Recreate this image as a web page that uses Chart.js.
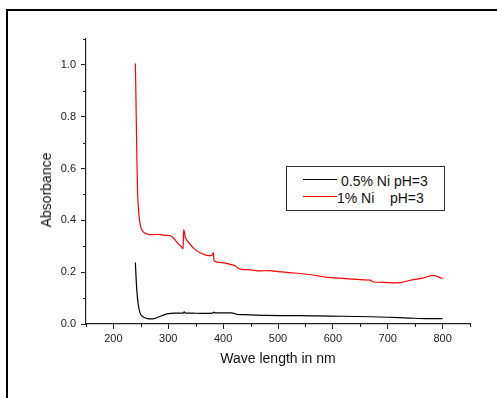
<!DOCTYPE html>
<html>
<head>
<meta charset="utf-8">
<script src="https://cdn.jsdelivr.net/npm/chart.js@4.4.0/dist/chart.umd.min.js"></script>
<style>
    body { margin: 0; background: #fff; }
    #wrap { position: relative; width: 497px; height: 398px; overflow: hidden; font-family: 'Liberation Sans', Arial, sans-serif; }
    #frame { position: absolute; left: 6px; top: 9px; width: 600px; height: 600px; border: 2px solid #000; }
    #chart { position: absolute; left: 0; top: 0; }
    #ytitle { position: absolute; left: 46px; top: 190px; font-size: 14px; color: #111; white-space: nowrap;
              transform: translate(-50%, -50%) rotate(-90deg); }
    #legend { position: absolute; left: 286px; top: 166px; width: 157px; height: 43px; border: 1px solid #333; background: #fff; }
    .lg-line { position: absolute; left: 303px; width: 34px; height: 1px; }
    .lg-text { position: absolute; font-size: 14px; line-height: 14px; color: #111; white-space: pre; }
</style>
</head>
<body>
<div id="wrap">
    <div id="frame"></div>
    <canvas id="chart" width="497" height="398"></canvas>
    <div id="ytitle">Absorbance</div>
    <div id="legend"></div>
    <div class="lg-line" style="top:179px;background:#000"></div>
    <div class="lg-text" id="lg0" style="left:341px;top:174px"></div>
    <div class="lg-line" style="top:196px;background:#ff0000"></div>
    <div class="lg-text" id="lg1" style="left:337px;top:191px"></div>
</div>
<script>
const seriesNames = ['0.5% Ni pH=3', '1% Ni    pH=3'];
const seriesColors = ['#000000', '#ff0000'];

// 0.5% Ni, pH=3
const blackWavelength = [240, 241.5, 243, 245, 247, 249, 252, 256, 262, 268, 276, 288, 300, 312, 327, 329, 331, 343, 360, 381,
    383, 385, 415, 421, 425, 440, 479, 540, 576, 620, 668, 700, 740, 770, 800];
const blackAbsorbance = [0.237, 0.17, 0.12, 0.08, 0.055, 0.04, 0.031, 0.025, 0.021, 0.02, 0.022, 0.032, 0.04, 0.042, 0.042, 0.047, 0.042, 0.042, 0.041, 0.042,
    0.046, 0.043, 0.043, 0.04, 0.037, 0.036, 0.033, 0.032, 0.031, 0.030, 0.028, 0.026, 0.023, 0.021, 0.021];

// 1% Ni, pH=3
const redWavelength = [240, 241, 242, 243, 244, 245.5, 246.6, 249, 252.7, 257, 262, 270, 282, 294, 303, 309, 318, 324, 327, 328,
    331, 337, 349, 361, 373, 379, 382, 383.5, 397, 415, 421, 427, 431, 450, 467, 485, 500, 522, 540, 560,
    576, 586, 605, 622, 645, 660, 668, 674, 690, 713, 725, 740, 765, 783, 792, 800];
const redAbsorbance = [1.005, 0.88, 0.74, 0.61, 0.51, 0.45, 0.42, 0.381, 0.36, 0.351, 0.347, 0.345, 0.346, 0.342, 0.341, 0.333, 0.31, 0.298, 0.291, 0.364,
    0.335, 0.315, 0.287, 0.272, 0.264, 0.264, 0.276, 0.243, 0.237, 0.229, 0.226, 0.216, 0.212, 0.209, 0.205, 0.206, 0.202, 0.198, 0.195, 0.19,
    0.185, 0.181, 0.178, 0.175, 0.172, 0.170, 0.169, 0.162, 0.161, 0.159, 0.161, 0.168, 0.178, 0.188, 0.182, 0.175];

const xLabels = [200, 300, 400, 500, 600, 700, 800];
const yLabels = [0.0, 0.2, 0.4, 0.6, 0.8, 1.0];

const isMajorX = v => xLabels.some(l => Math.abs(l - v) < 1e-6);
const isMajorY = v => yLabels.some(l => Math.abs(l - v) < 1e-6);

document.getElementById('lg0').textContent = seriesNames[0];
document.getElementById('lg1').textContent = seriesNames[1];

const toPoints = (xs, ys) => xs.map((x, i) => ({ x: x, y: ys[i] }));

// short minor ticks, the major ones come from the grid
const minorTicks = {
    id: 'minorTicks',
    afterDraw(chart) {
        const { ctx, scales: { x, y } } = chart;
        ctx.save();
        ctx.strokeStyle = '#222';
        ctx.lineWidth = 1;
        ctx.beginPath();
        x.ticks.forEach(t => {
            if (isMajorX(t.value)) return;
            const px = Math.round(x.getPixelForValue(t.value)) + 0.5;
            ctx.moveTo(px, x.top);
            ctx.lineTo(px, x.top + 3);
        });
        y.ticks.forEach(t => {
            if (isMajorY(t.value)) return;
            const py = Math.round(y.getPixelForValue(t.value)) + 0.5;
            ctx.moveTo(y.right, py);
            ctx.lineTo(y.right - 3, py);
        });
        ctx.stroke();
        ctx.restore();
    }
};

Chart.defaults.font.family = "'Liberation Sans', Arial, sans-serif";

const ctx = document.getElementById('chart').getContext('2d');
new Chart(ctx, {
    type: 'line',
    data: {
        datasets: [
            {
                label: seriesNames[0],
                data: toPoints(blackWavelength, blackAbsorbance),
                borderColor: seriesColors[0],
                borderWidth: 1.2,
                pointRadius: 0,
                cubicInterpolationMode: 'monotone'
            },
            {
                label: seriesNames[1],
                data: toPoints(redWavelength, redAbsorbance),
                borderColor: seriesColors[1],
                borderWidth: 1.2,
                pointRadius: 0,
                cubicInterpolationMode: 'monotone'
            }
        ]
    },
    options: {
        responsive: false,
        animation: false,
        devicePixelRatio: 1,
        layout: { padding: { left: 0, top: 39, right: 27, bottom: 30 } },
        plugins: { legend: { display: false }, tooltip: { enabled: false } },
        scales: {
            x: {
                type: 'linear',
                min: 150,
                max: 850,
                afterFit: s => { s.height = 44; },
                ticks: {
                    stepSize: 50,
                    autoSkip: false,
                    maxRotation: 0,
                    padding: 3,
                    color: '#222',
                    font: { size: 11 },
                    callback: v => isMajorX(v) ? String(v) : ''
                },
                grid: {
                    drawOnChartArea: false,
                    tickLength: 5,
                    tickColor: c => isMajorX(c.tick.value) ? '#222' : 'rgba(0,0,0,0)'
                },
                border: { color: '#222', width: 1.2 },
                title: { display: true, text: 'Wave length in nm', color: '#111', font: { size: 14 }, padding: 0 }
            },
            y: {
                min: 0,
                max: 1.1,
                afterFit: s => { s.width = 86; },
                ticks: {
                    stepSize: 0.1,
                    autoSkip: false,
                    padding: 5,
                    color: '#222',
                    font: { size: 11 },
                    callback: v => isMajorY(v) ? v.toFixed(1) : ''
                },
                grid: {
                    drawOnChartArea: false,
                    tickLength: 5,
                    tickColor: c => isMajorY(c.tick.value) ? '#222' : 'rgba(0,0,0,0)'
                },
                border: { color: '#222', width: 1.2 }
            }
        }
    },
    plugins: [minorTicks]
});
</script>
</body>
</html>
